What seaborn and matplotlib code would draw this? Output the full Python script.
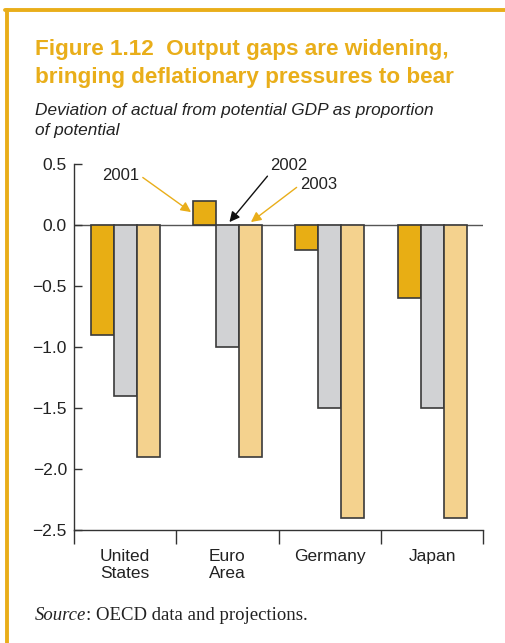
import matplotlib.pyplot as plt
import matplotlib.lines as mlines
import seaborn as sns
import pandas as pd

countries = ['United\nStates', 'Euro\nArea', 'Germany', 'Japan']
years = ['2001', '2002', '2003']
gap_2001 = [-0.9, 0.2, -0.2, -0.6]
gap_2002 = [-1.4, -1.0, -1.5, -1.5]
gap_2003 = [-1.9, -1.9, -2.4, -2.4]
yticks = [0.5, 0.0, -0.5, -1.0, -1.5, -2.0, -2.5]

colors = ['#E8AE14', '#D1D2D4', '#F4D28E']
orange = '#E9AE1A'

rows = []
for yr, vals in zip(years, [gap_2001, gap_2002, gap_2003]):
    for c, v in zip(countries, vals):
        rows.append({'country': c, 'year': yr, 'gap': v})
df = pd.DataFrame(rows)

sns.set_style('white')
plt.rcParams['font.family'] = ['Liberation Sans', 'DejaVu Sans']

fig = plt.figure(figsize=(5.06, 6.43), dpi=100)
ax = fig.add_axes([0.146, 0.1757, 0.809, 0.569])

sns.barplot(data=df, x='country', y='gap', hue='year', order=countries,
            hue_order=years, palette=colors, saturation=1, width=0.675,
            edgecolor='#3a3a3a', linewidth=1.2, legend=False, ax=ax)

ax.axhline(0, color='#555555', lw=1, zorder=0)
ax.set_xlim(-0.5, 3.5)
ax.set_ylim(-2.5, 0.5)
ax.set_yticks(yticks)
ax.set_yticklabels([f'{t:.1f}'.replace('-', '\u2212') for t in yticks])
ax.tick_params(axis='y', direction='in', length=6, width=1, color='#333333',
               labelsize=12.5, labelcolor='#222222', pad=5, left=True)
ax.set_xticks([-0.5, 0.5, 1.5, 2.5, 3.5])
ax.set_xticklabels([])
ax.set_xticks(range(len(countries)), minor=True)
ax.set_xticklabels(countries, minor=True, fontsize=12.5, color='#222222',
                   linespacing=1.1)
ax.tick_params(axis='x', which='major', direction='out', length=10, width=1,
               color='#333333', bottom=True)
ax.tick_params(axis='x', which='minor', length=0, pad=14)
ax.set_xlabel('')
ax.set_ylabel('')
sns.despine(ax=ax)
for s in ['left', 'bottom']:
    ax.spines[s].set_color('#333333')
    ax.spines[s].set_linewidth(1)

# year call-outs
ax.annotate('2001', xy=(0.645, 0.107), xytext=(-0.04, 0.41), ha='center', va='center',
            fontsize=12, color='#222222', annotation_clip=False,
            arrowprops=dict(arrowstyle='-|>', color=orange, lw=1, mutation_scale=15,
                            shrinkA=0, shrinkB=0, relpos=(1.0, 0.5)))
ax.annotate('2002', xy=(1.02, 0.025), xytext=(1.60, 0.49), ha='center', va='center',
            fontsize=12, color='#222222', annotation_clip=False,
            arrowprops=dict(arrowstyle='-|>', color='#111111', lw=1, mutation_scale=15,
                            shrinkA=0, shrinkB=0, relpos=(0.0, 0.0)))
ax.annotate('2003', xy=(1.23, 0.025), xytext=(1.89, 0.33), ha='center', va='center',
            fontsize=12, color='#222222', annotation_clip=False,
            arrowprops=dict(arrowstyle='-|>', color=orange, lw=1, mutation_scale=15,
                            shrinkA=0, shrinkB=0, relpos=(0.0, 0.5)))

# titles
fig.text(35 / 506, 1 - 50 / 643, 'Figure 1.12  Output gaps are widening,',
         fontsize=16.2, fontweight='bold', color=orange, va='center')
fig.text(35 / 506, 1 - 77 / 643, 'bringing deflationary pressures to bear',
         fontsize=16.2, fontweight='bold', color=orange, va='center')
fig.text(35 / 506, 1 - 110 / 643, 'Deviation of actual from potential GDP as proportion',
         fontsize=12.4, style='italic', color='#222222', va='center')
fig.text(35 / 506, 1 - 130 / 643, 'of potential',
         fontsize=12.4, style='italic', color='#222222', va='center')

src = fig.text(35 / 506, 1 - 620 / 643, 'Source', fontsize=13.5, style='italic',
               family='Liberation Serif', color='#222222', va='baseline')
fig.canvas.draw()
bb = src.get_window_extent()
fig.text(bb.x1 / fig.bbox.width, 1 - 620 / 643, ': OECD data and projections.',
         fontsize=13.5, family='Liberation Serif', color='#222222', va='baseline')

# frame lines
fig.add_artist(mlines.Line2D([5 / 506, 1], [1 - 10 / 643, 1 - 10 / 643],
                             color=orange, lw=2.8, transform=fig.transFigure))
fig.add_artist(mlines.Line2D([7 / 506, 7 / 506], [1 - 10 / 643, 0],
                             color=orange, lw=2.8, transform=fig.transFigure))

fig.savefig('out.png', dpi=100)
